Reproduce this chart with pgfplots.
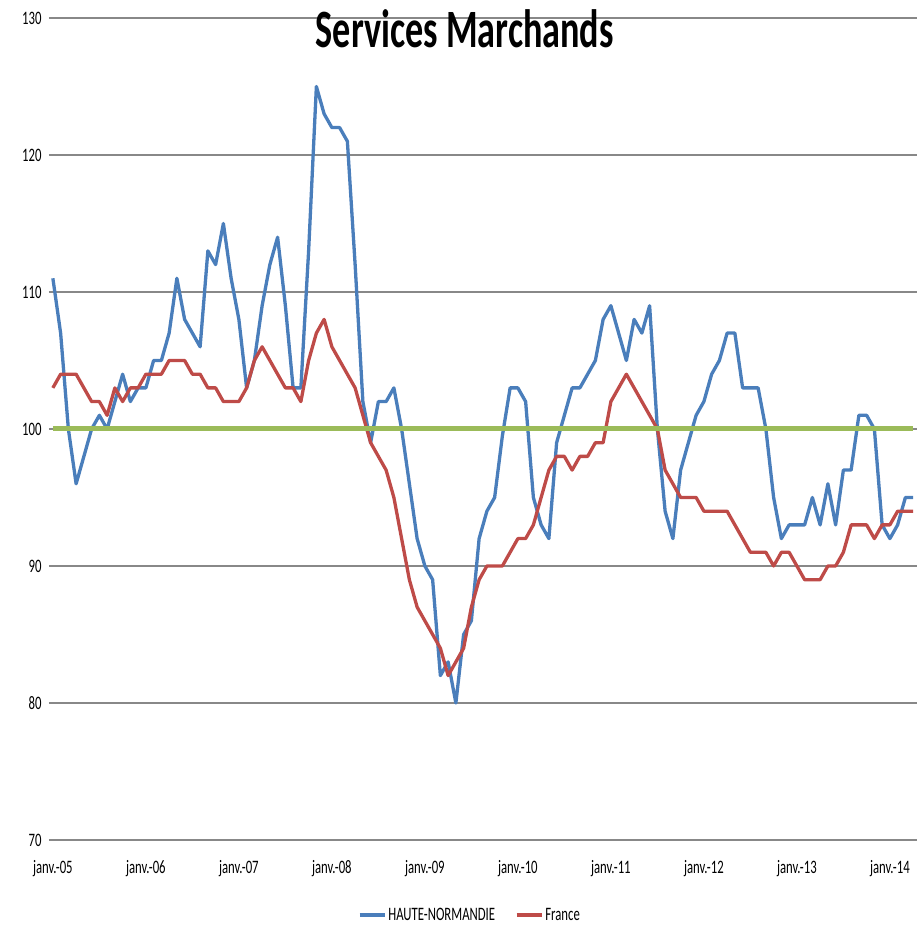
\documentclass[border=0pt]{standalone}
\usepackage{fontspec}
\setmainfont[FakeStretch=0.67]{Carlito}
\usepackage{pgfplots}
\usepackage{pgfplotstable}
\pgfplotsset{compat=1.18}
\definecolor{hnblue}{HTML}{4A7EBB}
\definecolor{frred}{HTML}{BE4B48}
\definecolor{refgreen}{HTML}{9BBB59}
\definecolor{gridgray}{HTML}{888888}
\pgfplotstableread{
i hn fr
0 111 103
1 107 104
2 100 104
3 96 104
4 98 103
5 100 102
6 101 102
7 100 101
8 102 103
9 104 102
10 102 103
11 103 103
12 103 104
13 105 104
14 105 104
15 107 105
16 111 105
17 108 105
18 107 104
19 106 104
20 113 103
21 112 103
22 115 102
23 111 102
24 108 102
25 103 103
26 105 105
27 109 106
28 112 105
29 114 104
30 109 103
31 103 103
32 103 102
33 113 105
34 125 107
35 123 108
36 122 106
37 122 105
38 121 104
39 112 103
40 102 101
41 99 99
42 102 98
43 102 97
44 103 95
45 100 92
46 96 89
47 92 87
48 90 86
49 89 85
50 82 84
51 83 82
52 80 83
53 85 84
54 86 87
55 92 89
56 94 90
57 95 90
58 99.5 90
59 103 91
60 103 92
61 102 92
62 95 93
63 93 95
64 92 97
65 99 98
66 101 98
67 103 97
68 103 98
69 104 98
70 105 99
71 108 99
72 109 102
73 107 103
74 105 104
75 108 103
76 107 102
77 109 101
78 100 100
79 94 97
80 92 96
81 97 95
82 99 95
83 101 95
84 102 94
85 104 94
86 105 94
87 107 94
88 107 93
89 103 92
90 103 91
91 103 91
92 100 91
93 95 90
94 92 91
95 93 91
96 93 90
97 93 89
98 95 89
99 93 89
100 96 90
101 93 90
102 97 91
103 97 93
104 101 93
105 101 93
106 100 92
107 93 93
108 92 93
109 93 94
110 95 94
111 95 94
}\datatable
\begin{document}
\begin{tikzpicture}
\useasboundingbox (-49bp,-87bp) rectangle (868bp,840bp);
\begin{axis}[
  at={(0,0)}, anchor=south west,
  scale only axis, width=868bp, height=822bp,
  xmin=-0.5, xmax=111.5, ymin=70, ymax=130,
  clip=false,
  ytick={70,80,...,130},
  xtick={0,12,...,108},
  xticklabels={janv.-05,janv.-06,janv.-07,janv.-08,janv.-09,janv.-10,janv.-11,janv.-12,janv.-13,janv.-14},
  ymajorgrids, grid style={gridgray, line width=1.3bp},
  axis line style={draw=none},
  major tick length=0pt,
  tick label style={font=\fontsize{19bp}{22bp}\selectfont},
  /pgf/number format/assume math mode=true,
  yticklabel style={anchor=east, xshift=-4bp},
  xticklabel style={anchor=base, yshift=-33bp},
  legend style={at={(0.485,-0.0912)}, anchor=center, draw=none, fill=none,
    font=\fontsize{19bp}{22bp}\selectfont,
    /tikz/every even column/.append style={column sep=18bp}},
  legend columns=2,
  legend cell align=left,
  legend image code/.code={\draw[#1] (0bp,0bp) -- (25bp,0bp);},
]
\addplot[hnblue, line width=3.3bp, line join=round] table[x=i, y=hn] {\datatable};
\addlegendentry{HAUTE-NORMANDIE}
\addplot[frred, line width=3.3bp, line join=round] table[x=i, y=fr] {\datatable};
\addlegendentry{France}
\addplot[refgreen, line width=5bp, forget plot] coordinates {(0,100) (111,100)};
\node[anchor=base, font=\fontsize{54bp}{60bp}\selectfont\bfseries] at (rel axis cs:0.479,0.9635) {Services Marchands};
\end{axis}
\end{tikzpicture}
\end{document}
